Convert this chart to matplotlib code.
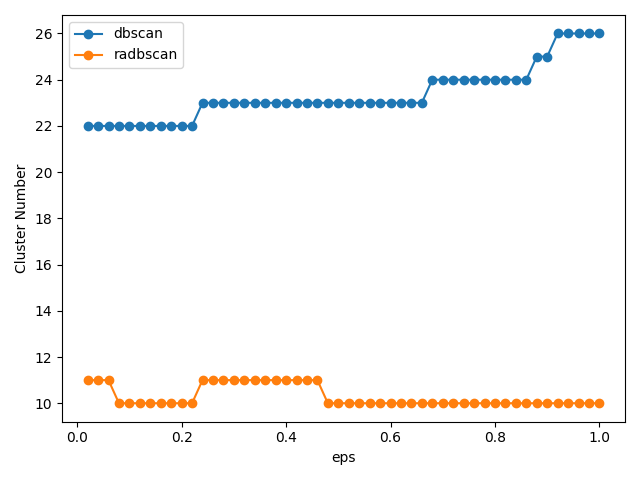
import matplotlib
matplotlib.use("Agg")
import matplotlib.pyplot as plt

eps = [0.02, 0.04, 0.06, 0.08, 0.10, 0.12, 0.14, 0.16, 0.18, 0.20,
       0.22, 0.24, 0.26, 0.28, 0.30, 0.32, 0.34, 0.36, 0.38, 0.40,
       0.42, 0.44, 0.46, 0.48, 0.50, 0.52, 0.54, 0.56, 0.58, 0.60,
       0.62, 0.64, 0.66, 0.68, 0.70, 0.72, 0.74, 0.76, 0.78, 0.80,
       0.82, 0.84, 0.86, 0.88, 0.90, 0.92, 0.94, 0.96, 0.98, 1.00]

dbscan = [22, 22, 22, 22, 22, 22, 22, 22, 22, 22,
          22, 23, 23, 23, 23, 23, 23, 23, 23, 23,
          23, 23, 23, 23, 23, 23, 23, 23, 23, 23,
          23, 23, 23, 24, 24, 24, 24, 24, 24, 24,
          24, 24, 24, 25, 25, 26, 26, 26, 26, 26]

radbscan = [11, 11, 11, 10, 10, 10, 10, 10, 10, 10,
            10, 11, 11, 11, 11, 11, 11, 11, 11, 11,
            11, 11, 11, 10, 10, 10, 10, 10, 10, 10,
            10, 10, 10, 10, 10, 10, 10, 10, 10, 10,
            10, 10, 10, 10, 10, 10, 10, 10, 10, 10]

fig, ax = plt.subplots(figsize=(6.4, 4.8), dpi=100)
ax.plot(eps, dbscan, marker='o', label='dbscan')
ax.plot(eps, radbscan, marker='o', label='radbscan')
ax.set_xlabel('eps')
ax.set_ylabel('Cluster Number')
ax.legend(loc='upper left')
fig.tight_layout()
fig.savefig('out.png')
